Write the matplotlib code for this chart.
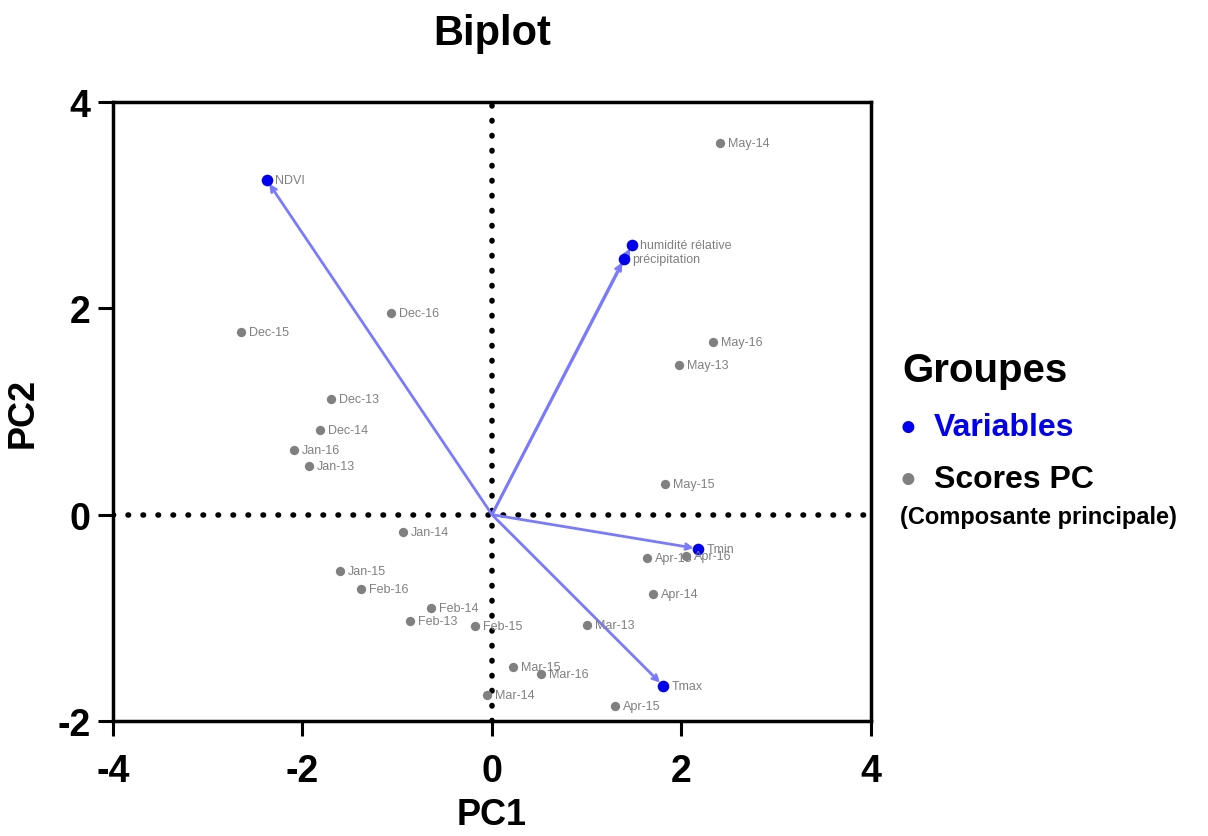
import matplotlib.pyplot as plt

plt.rcParams['font.family'] = ['Liberation Sans', 'DejaVu Sans']
plt.rcParams['axes.unicode_minus'] = False

# variables (loadings)
var_names = ['NDVI', 'humidité rélative', 'précipitation', 'Tmin', 'Tmax']
var_pc1 = [-2.375, 1.478, 1.393, 2.174, 1.805]
var_pc2 = [3.24, 2.616, 2.48, -0.33, -1.657]

# scores
score_names = ['May-14', 'Dec-16', 'Dec-15', 'May-16', 'May-13', 'Dec-13', 'Dec-14',
               'Jan-16', 'Jan-13', 'May-15', 'Jan-14', 'Apr-13', 'Apr-16', 'Jan-15',
               'Apr-14', 'Feb-16', 'Feb-14', 'Feb-13', 'Feb-15', 'Mar-13', 'Mar-15',
               'Mar-16', 'Mar-14', 'Apr-15']
score_pc1 = [2.406, -1.066, -2.649, 2.332, 1.974, -1.699, -1.815, -2.090, -1.931, 1.826,
             -0.939, 1.636, 2.047, -1.604, 1.699, -1.383, -0.644, -0.865, -0.179, 1.003,
             0.222, 0.517, -0.053, 1.298]
score_pc2 = [3.605, 1.957, 1.773, 1.676, 1.453, 1.124, 0.824, 0.630, 0.475, 0.300,
             -0.165, -0.417, -0.397, -0.543, -0.766, -0.717, -0.901, -1.027, -1.076, -1.066,
             -1.473, -1.541, -1.744, -1.851]

fig = plt.figure(figsize=(12.08, 8.37), dpi=100)
ax = fig.add_axes([0.0935, 0.1374, 0.6275, 0.7396])

# reference lines
ax.axhline(0, color='black', lw=4, linestyle=(0, (0.1, 2.6)), dash_capstyle='round', zorder=1)
ax.axvline(0, color='black', lw=4, linestyle=(0, (0.1, 2.6)), dash_capstyle='round', zorder=1)

# arrows
for x, y in zip(var_pc1, var_pc2):
    ax.annotate('', xy=(x, y), xytext=(0, 0),
                arrowprops=dict(arrowstyle='->', color='#7a7aff', lw=2,
                                mutation_scale=10, shrinkA=0, shrinkB=3),
                zorder=2)

ax.scatter(score_pc1, score_pc2, s=45, color='#808080', zorder=3, linewidths=0)
ax.scatter(var_pc1, var_pc2, s=70, color='#0000ee', zorder=4, linewidths=0)

for n, x, y in zip(score_names, score_pc1, score_pc2):
    ax.annotate(n, (x, y), xytext=(6, 0), textcoords='offset points',
                va='center', ha='left', fontsize=9, color='#808080', zorder=5)
for n, x, y in zip(var_names, var_pc1, var_pc2):
    ax.annotate(n, (x, y), xytext=(6, 0), textcoords='offset points',
                va='center', ha='left', fontsize=9, color='#808080', zorder=5)

ax.set_xlim(-4, 4)
ax.set_ylim(-2, 4)
ax.set_xticks([-4, -2, 0, 2, 4])
ax.set_yticks([-2, 0, 2, 4])
for s in ax.spines.values():
    s.set_linewidth(2.5)
ax.tick_params(width=2.2, length=11, labelsize=27, direction='out')
ax.tick_params(axis='x', pad=12)
ax.tick_params(axis='y', pad=5)
for lab in ax.get_xticklabels() + ax.get_yticklabels():
    lab.set_fontweight('bold')

ax.set_xlabel('PC1', fontsize=26, fontweight='bold', labelpad=6)
ax.set_ylabel('PC2', fontsize=26, fontweight='bold', labelpad=12)
ax.set_title('Biplot', fontsize=30, fontweight='bold', pad=42)

# legend-like text block
fig.text(0.747, 0.557, 'Groupes', fontsize=29, fontweight='bold', va='center')
fig.text(0.745, 0.489, '\u25CF', fontsize=20, color='#0000ee', va='center')
fig.text(0.773, 0.489, 'Variables', fontsize=23, fontweight='bold', color='#0000ee', va='center')
fig.text(0.745, 0.427, '\u25CF', fontsize=20, color='#808080', va='center')
fig.text(0.773, 0.427, 'Scores PC', fontsize=23, fontweight='bold', color='black', va='center')
fig.text(0.745, 0.382, '(Composante principale)', fontsize=17, fontweight='bold', va='center')

fig.savefig('out.png', dpi=100)
